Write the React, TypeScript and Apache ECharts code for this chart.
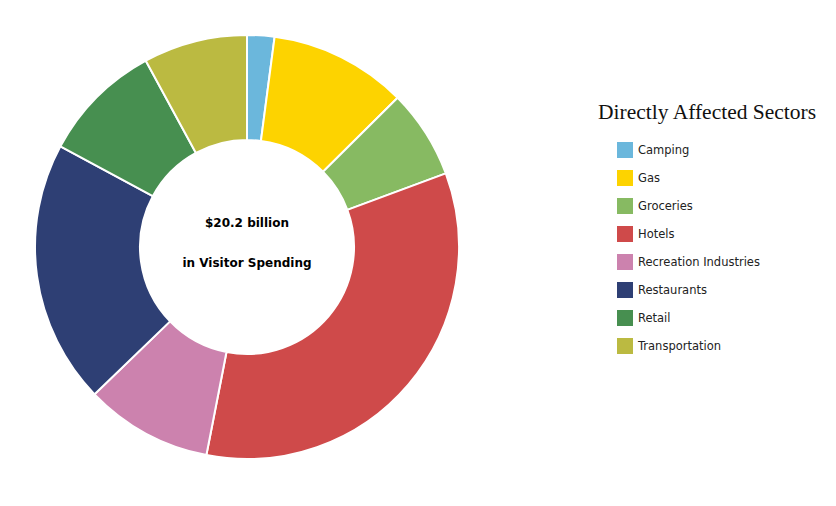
import React, { useEffect, useRef } from "react";
import * as echarts from "echarts";

const sectors = [
  "Camping",
  "Gas",
  "Groceries",
  "Hotels",
  "Recreation Industries",
  "Restaurants",
  "Retail",
  "Transportation",
];
// Visitor spending, billions of dollars (total 20.2)
const spending = [0.42, 2.12, 1.37, 6.81, 1.96, 4.06, 1.86, 1.6];
const colors = [
  "#6BB7DC",
  "#FDD300",
  "#87BA62",
  "#CF4A4A",
  "#CC82AE",
  "#2E3F74",
  "#478F50",
  "#BBBA41",
];
const centerLines = ["$20.2 billion", "in Visitor Spending"];
const legendTitle = "Directly Affected Sectors";

export default function App() {
  const ref = useRef<HTMLDivElement>(null);
  useEffect(() => {
    if (!ref.current) return;
    const chart = echarts.init(ref.current, null, { renderer: "svg" });
    chart.setOption({
      animation: false,
      backgroundColor: "#ffffff",
      title: {
        text: legendTitle,
        left: 593,
        top: 96,
        textStyle: {
          fontFamily: "'Liberation Serif', serif",
          fontSize: 21.5,
          fontWeight: "normal",
          color: "#111",
        },
      },
      legend: {
        orient: "vertical",
        left: 617,
        top: 142,
        padding: 0,
        itemWidth: 16,
        itemHeight: 16,
        itemGap: 12,
        icon: "rect",
        data: sectors,
        selectedMode: false,
        itemStyle: { borderWidth: 0 },
        textStyle: {
          fontFamily: "'DejaVu Sans', sans-serif",
          fontSize: 11.5,
          color: "#222",
        },
      },
      graphic: [
        {
          type: "text",
          x: 247,
          y: 223,
          style: {
            text: centerLines[0],
            textAlign: "center",
            textVerticalAlign: "middle",
            font: "bold 12px 'DejaVu Sans', sans-serif",
            fill: "#000",
          },
        },
        {
          type: "text",
          x: 247,
          y: 263,
          style: {
            text: centerLines[1],
            textAlign: "center",
            textVerticalAlign: "middle",
            font: "bold 12px 'DejaVu Sans', sans-serif",
            fill: "#000",
          },
        },
      ],
      series: [
        {
          type: "pie",
          center: [247, 247],
          radius: [107, 212],
          startAngle: 90,
          clockwise: true,
          label: { show: false },
          labelLine: { show: false },
          emphasis: { disabled: true },
          itemStyle: { borderColor: "#ffffff", borderWidth: 2 },
          data: sectors.map((name, i) => ({
            name,
            value: spending[i],
            itemStyle: { color: colors[i] },
          })),
        },
      ],
    });
    return () => chart.dispose();
  }, []);
  return (
    <div
      ref={ref}
      style={{ position: "absolute", left: 0, top: 0, width: 836, height: 506 }}
    />
  );
}
